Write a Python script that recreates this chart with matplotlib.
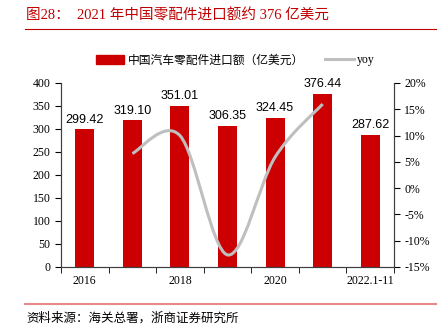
import numpy as np
import matplotlib.pyplot as plt
from matplotlib.path import Path
from matplotlib.patches import PathPatch
from matplotlib.lines import Line2D
from matplotlib.patches import Patch

plt.rcParams['font.family'] = ['Liberation Serif', 'Noto Sans CJK SC']

# data
years = ['2016', '2017', '2018', '2019', '2020', '2021', '2022.1-11']
amount = [299.42, 319.10, 351.01, 306.35, 324.45, 376.44, 287.62]
yoy = [6.6, 10.0, -12.7, 5.9, 16.0]   # 2017..2021, %
shown_labels = ['2016', '', '2018', '', '2020', '', '2022.1-11']

bar_color = '#CC0000'
line_color = '#BFBFBF'
cjk = ['Liberation Serif', 'Noto Sans CJK SC']

fig = plt.figure(figsize=(4.4, 3.36), dpi=100)
ax = fig.add_axes([0.1386, 0.2054, 0.7569, 0.5476])
ax2 = ax.twinx()

x = np.arange(len(years))
ax.bar(x, amount, width=0.4, color=bar_color, zorder=2)
for xi, v in zip(x, amount):
    ax.text(xi, v + 8, f'{v:.2f}', ha='center', va='bottom',
            fontsize=9, family='Liberation Sans')

ax.set_xlim(-0.5, len(years) - 0.5)
ax.set_ylim(0, 400)
ax.set_yticks(range(0, 401, 50))
ax.set_xticks(x)
ax.set_xticklabels(shown_labels, fontsize=8.5)
ax.set_xticks(np.arange(-0.5, len(years), 1), minor=True)
ax.tick_params(axis='x', which='major', length=0, pad=6)
ax.tick_params(axis='x', which='minor', length=4, direction='out')
ax.tick_params(axis='y', labelsize=8.5, length=4, direction='out')

# smooth yoy line (Catmull-Rom as cubic Bezier through the data points)
px = x[1:6].astype(float)
py = np.array(yoy, dtype=float)
pts = np.column_stack([px, py])
verts = [pts[0]]
codes = [Path.MOVETO]
n = len(pts)
for i in range(n - 1):
    p0 = pts[i - 1] if i > 0 else pts[i]
    p1 = pts[i]
    p2 = pts[i + 1]
    p3 = pts[i + 2] if i + 2 < n else pts[i + 1]
    c1 = p1 + (p2 - p0) / 6
    c2 = p2 - (p3 - p1) / 6
    verts += [c1, c2, p2]
    codes += [Path.CURVE4] * 3
ax2.add_patch(PathPatch(Path(verts, codes), facecolor='none',
                        edgecolor=line_color, lw=2.2, zorder=3))
ax2.set_ylim(-15, 20)
ax2.set_yticks(range(-15, 21, 5))
ax2.set_yticklabels([f'{t}%' for t in range(-15, 21, 5)])
ax2.tick_params(axis='y', labelsize=8.5, length=4, direction='out')

for a in (ax, ax2):
    a.spines['top'].set_visible(False)
    for s in ('left', 'right', 'bottom'):
        a.spines[s].set_color('#404040')
        a.spines[s].set_linewidth(0.8)

handles = [Patch(color=bar_color), Line2D([], [], color=line_color, lw=2.2)]
fig.legend(handles, ['中国汽车零配件进口额（亿美元）', 'yoy'],
           loc='center', bbox_to_anchor=(0.535, 0.82), ncol=2, frameon=False,
           prop={'family': cjk, 'size': 8.5}, handlelength=2.4,
           handleheight=0.9, columnspacing=1.8, handletextpad=0.3)

# title and source
fig.text(0.06, 0.955, '图28：  2021 年中国零配件进口额约 376 亿美元',
         color='#C00000', fontsize=10.5, va='center', family=cjk)
fig.add_artist(Line2D([0.057, 0.99], [0.913, 0.913], color='#C00000', lw=0.8))
fig.add_artist(Line2D([0.057, 0.99], [0.095, 0.095], color='#E88A8A', lw=1.5))
fig.text(0.06, 0.053, '资料来源：海关总署，浙商证券研究所', fontsize=9,
         va='center', family=cjk)

fig.savefig('out.png', dpi=100)
